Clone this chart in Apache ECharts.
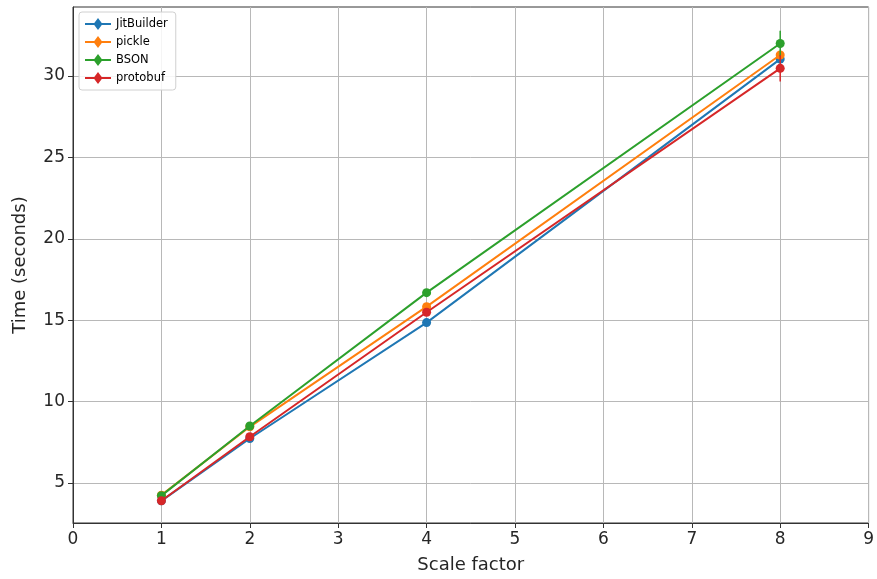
<!DOCTYPE html>
<html>
<head>
<meta charset="utf-8">
<script src="https://cdn.jsdelivr.net/npm/echarts@6/dist/echarts.min.js"></script>
<style>
  html, body { margin: 0; padding: 0; background: #fff; }
  #chart { width: 877px; height: 579px; }
</style>
</head>
<body>
<div id="chart"></div>
<script>
// scale factors on the x axis
var scales = [1, 2, 4, 8];

// mean times (seconds)
var jitBuilder = [3.90, 7.73, 14.85, 31.04];
var pickle     = [4.25, 8.45, 15.83, 31.29];
var bson       = [4.22, 8.50, 16.69, 32.00];
var protobuf   = [3.91, 7.84, 15.49, 30.47];

// error bar half heights
var jitBuilderErr = [0.05, 0.05, 0.05, 0.1];
var pickleErr     = [0.05, 0.05, 0.05, 0.1];
var bsonErr       = [0.05, 0.05, 0.05, 0.78];
var protobufErr   = [0.05, 0.05, 0.05, 0.8];

var yTicks = [5, 10, 15, 20, 25, 30];

var names = ['JitBuilder', 'pickle', 'BSON', 'protobuf'];
var colors = ['#1f77b4', '#ff7f0e', '#2ca02c', '#d62728'];
var values = [jitBuilder, pickle, bson, protobuf];
var errors = [jitBuilderErr, pickleErr, bsonErr, protobufErr];

var chart = echarts.init(document.getElementById('chart'));

var series = [];
values.forEach(function (vals, i) {
  var errData = scales.map(function (x, j) {
    return [x, vals[j] - errors[i][j], vals[j] + errors[i][j]];
  });
  series.push({
    type: 'line',
    name: names[i],
    z: 3 + i * 2,
    data: scales.map(function (x, j) { return [x, vals[j]]; }),
    symbol: 'circle',
    symbolSize: 9,
    showSymbol: true,
    color: colors[i],
    lineStyle: { color: colors[i], width: 2 },
    itemStyle: { color: colors[i] },
    emphasis: { disabled: true }
  });
  series.push({
    type: 'custom',
    name: names[i] + ' err',
    z: 2 + i * 2,
    silent: true,
    data: errData,
    renderItem: function (params, api) {
      var lo = api.coord([api.value(0), api.value(1)]);
      var hi = api.coord([api.value(0), api.value(2)]);
      return {
        type: 'line',
        shape: { x1: lo[0], y1: lo[1], x2: hi[0], y2: hi[1] },
        style: { stroke: colors[i], lineWidth: 1.5 }
      };
    }
  });
});

chart.setOption({
  animation: false,
  textStyle: { fontFamily: 'DejaVu Sans' },
  grid: {
    left: 73, top: 7, right: 7, bottom: 56,
    show: true, borderColor: '#333', borderWidth: 1
  },
  legend: {
    data: names.map(function (n) {
      return { name: n, icon: 'path://M0,5 H26 V7 H0 Z M13,0 L17.5,6 L13,12 L8.5,6 Z' };
    }),
    orient: 'vertical',
    left: 79, top: 12,
    itemWidth: 26, itemHeight: 12, itemGap: 6,
    padding: [6, 8, 6, 6],
    backgroundColor: 'rgba(255,255,255,0.85)',
    borderColor: '#d0d0d0', borderWidth: 1, borderRadius: 3,
    textStyle: { fontSize: 11.5, color: '#000', fontFamily: 'DejaVu Sans' }
  },
  xAxis: {
    type: 'value',
    min: 0, max: 9, interval: 1,
    name: 'Scale factor',
    nameLocation: 'middle',
    nameGap: 33,
    nameTextStyle: { fontSize: 18, color: '#262626' },
    axisLine: { show: true, lineStyle: { color: '#333' } },
    axisTick: { show: true, length: 5, lineStyle: { color: '#333' } },
    axisLabel: { fontSize: 17, color: '#262626', margin: 8 },
    splitLine: { show: true, lineStyle: { color: '#b8b8b8', width: 1 } }
  },
  yAxis: {
    type: 'value',
    min: 2.54, max: 34.24,
    name: 'Time (seconds)',
    nameLocation: 'middle',
    nameGap: 44,
    nameTextStyle: { fontSize: 18, color: '#262626' },
    axisLine: { show: true, lineStyle: { color: '#333' } },
    axisTick: { show: true, length: 5, customValues: yTicks, lineStyle: { color: '#333' } },
    axisLabel: { fontSize: 17, color: '#262626', margin: 8, customValues: yTicks },
    splitLine: { show: true, lineStyle: { color: '#b8b8b8', width: 1 } }
  },
  series: series
});
</script>
</body>
</html>
